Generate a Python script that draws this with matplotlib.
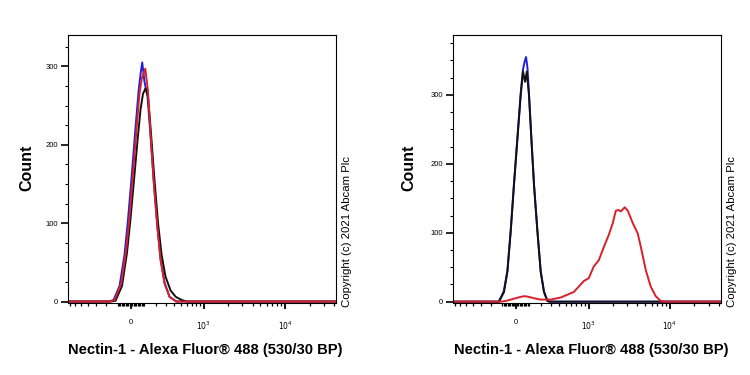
import numpy as np
import matplotlib
matplotlib.use("Agg")
import matplotlib.pyplot as plt
from matplotlib.ticker import FixedLocator, FixedFormatter, NullFormatter

plt.rcParams["font.family"] = ["Liberation Sans", "DejaVu Sans"]

# 左图: 三条直方图曲线 (荧光强度, 细胞数)
left_blue_x = [-750, -170, -134, -86, -48, -22, 4, 30, 56, 71, 84, 102, 126, 151, 180, 212, 244, 286, 343, 435, 42000]
left_blue_y = [0, 0, 2, 20, 60, 105, 158, 215, 268, 290, 305, 280, 262, 212, 152, 97, 54, 24, 6, 0, 0]

left_black_x = [-750, -160, -118, -67, -30, -4, 22, 48, 71, 90, 110, 130, 155, 186, 219, 254, 296, 356, 424, 513, 600, 42000]
left_black_y = [0, 0, 1, 20, 62, 105, 155, 205, 245, 265, 272, 262, 215, 155, 100, 60, 32, 14, 6, 2, 0, 0]

left_red_x = [-750, -165, -126, -73, -36, -11, 13, 38, 63, 81, 108, 129, 151, 180, 212, 244, 286, 343, 430, 42000]
left_red_y = [0, 0, 2, 23, 66, 108, 159, 214, 265, 285, 297, 270, 214, 151, 96, 53, 23, 6, 0, 0]

# 右图
right_blue_x = [-750, -130, -90, -62, -37, -13, 13, 37, 54, 66, 77, 88, 100, 119, 141, 170, 200, 231, 266, 290, 42000]
right_blue_y = [0, 0, 15, 45, 104, 171, 240, 303, 337, 348, 355, 340, 302, 238, 170, 103, 44, 15, 1, 0, 0]

right_black_x = [-750, -128, -88, -62, -37, -13, 13, 37, 54, 70, 83, 100, 119, 141, 170, 200, 231, 266, 290, 42000]
right_black_y = [0, 0, 14, 43, 102, 169, 237, 300, 334, 319, 334, 300, 237, 169, 102, 43, 14, 1, 0, 0]

right_red_x = [-750, -114, -75, -37, 0, 37, 67, 98, 141, 200, 249, 300, 427, 646, 873, 1006, 1163, 1344, 1550,
               1790, 2004, 2185, 2374, 2517, 2817, 3066, 3530, 4060, 4420, 5090, 5850, 6730, 7760, 8960, 42000]
right_red_y = [0, 0, 1, 3, 5, 7, 8, 7, 5, 3, 3, 3, 6, 14, 30, 34, 51, 60, 79,
               97, 114, 132, 133, 131, 137, 132, 114, 99, 80, 46, 22, 8, 1, 0, 0]

# 坐标轴刻度
x_major = [0, 1000, 10000]
x_major_labels = ["0", "$10^3$", "$10^4$"]
x_minor = (list(range(-700, -100, 100)) + list(range(-100, 101, 10)) + list(range(200, 1000, 100))
           + list(range(2000, 10000, 1000)) + [20000, 30000, 40000])
y_major = [0, 100, 200, 300]

BLUE = "#2020d8"
BLACK = "#111111"
RED = "#d8202a"


def fwd(x):
    return np.arcsinh(np.asarray(x) / 262.0)


def inv(u):
    return 262.0 * np.sinh(np.asarray(u))


def draw_panel(ax, series, ymax):
    for xs, ys, c in series:
        ax.plot(xs, ys, color=c, lw=1.4)
    ax.set_xscale("function", functions=(fwd, inv))
    ax.set_xlim(-750, 42000)
    ax.set_ylim(-1.5, ymax)
    ax.xaxis.set_major_locator(FixedLocator(x_major))
    ax.xaxis.set_major_formatter(FixedFormatter(x_major_labels))
    ax.xaxis.set_minor_locator(FixedLocator(x_minor))
    ax.xaxis.set_minor_formatter(NullFormatter())
    ax.yaxis.set_major_locator(FixedLocator(y_major))
    ax.yaxis.set_minor_locator(FixedLocator(list(range(25, int(ymax), 25))))
    ax.tick_params(axis="x", which="major", length=4, width=1.3, pad=8, labelsize=5.5)
    ax.tick_params(axis="x", which="minor", length=2.5, width=0.9)
    ax.tick_params(axis="y", which="major", length=5, width=1.2, pad=2, labelsize=5.5)
    ax.tick_params(axis="y", which="minor", length=2, width=0.8)
    for s in ax.spines.values():
        s.set_linewidth(0.8)


fig = plt.figure(figsize=(7.5, 3.75), dpi=100)
ax1 = fig.add_axes([68 / 750, 72.3 / 375, 268 / 750, 267.7 / 375])
ax2 = fig.add_axes([452.7 / 750, 72.3 / 375, 268 / 750, 267.7 / 375])

draw_panel(ax1, [(left_blue_x, left_blue_y, BLUE), (left_black_x, left_black_y, BLACK),
                 (left_red_x, left_red_y, RED)], 340)
draw_panel(ax2, [(right_blue_x, right_blue_y, BLUE), (right_black_x, right_black_y, BLACK),
                 (right_red_x, right_red_y, RED)], 387)

xlabel = "Nectin-1 - Alexa Fluor® 488 (530/30 BP)"
for cx, ylx in [(205, 27), (591, 409)]:
    fig.text(cx / 750, 25 / 375, xlabel, ha="center", va="center", fontsize=10.6, fontweight="bold")
    fig.text(ylx / 750, 207 / 375, "Count", ha="center", va="center", rotation=90,
             fontsize=11.5, fontweight="bold")

for cx in [347, 732]:
    fig.text(cx / 750, 68 / 375, "Copyright (c) 2021 Abcam Plc", ha="center", va="bottom",
             rotation=90, fontsize=8.2)

fig.savefig("out.png", dpi=100)
